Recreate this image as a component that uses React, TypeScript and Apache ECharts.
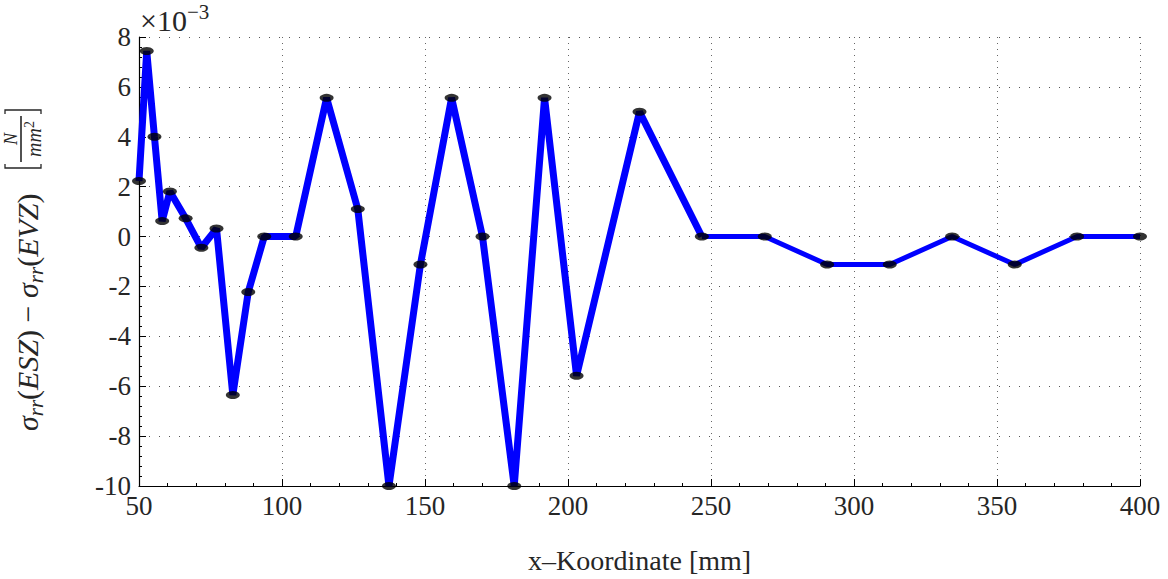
import React, { useEffect, useRef } from "react";
import * as echarts from "echarts";

// x-Koordinate [mm]
const xValues = [50, 52.7, 55.4, 58.1, 60.8, 66.3, 71.8, 77.1, 82.8, 88.2, 93.8, 104.8, 115.6, 126.5, 137.4, 148.4, 159.3, 170.1, 181.2, 191.8, 203.0, 225.0, 246.8, 268.8, 290.6, 312.5, 334.3, 356.2, 378.0, 400];
// sigma_rr(ESZ) - sigma_rr(EVZ), in units of 1e-3 N/mm^2
const yValues = [2.23, 7.44, 4.0, 0.62, 1.81, 0.73, -0.45, 0.32, -6.35, -2.22, 0, 0, 5.56, 1.1, -10, -1.12, 5.56, 0, -10, 5.56, -5.58, 5.0, 0, 0, -1.12, -1.12, 0, -1.12, 0, 0];
const splitIndex = 22; // thick part ends here, thin part starts
const xTicks = [50, 100, 150, 200, 250, 300, 350, 400];
const yTicks = [-10, -8, -6, -4, -2, 0, 2, 4, 6, 8];

const FONT = "'Liberation Serif', 'Times New Roman', serif";
const TXT = "#262626";

export default function App() {
  const ref = useRef<HTMLDivElement>(null);
  useEffect(() => {
    if (!ref.current) return;
    const chart = echarts.init(ref.current, undefined, { renderer: "svg" });
    const pts = xValues.map((x, i) => [x, yValues[i]]);
    const thick = pts.slice(0, splitIndex + 1);
    const thin = pts.slice(splitIndex);
    const axisCommon = {
      axisLine: { show: true, onZero: false, lineStyle: { color: "#000", width: 1.2 } },
      axisTick: { show: true, inside: true, length: 7, lineStyle: { color: "#000" } },
      minorTick: { show: true, splitNumber: 5, length: 3, lineStyle: { color: "#000" } },
      axisLabel: { fontFamily: FONT, fontSize: 27, color: TXT },
    };
    chart.setOption({
      animation: false,
      backgroundColor: "#fff",
      grid: { left: 139, right: 28, top: 37, bottom: 89, containLabel: false },
      xAxis: {
        type: "value",
        min: xTicks[0],
        max: xTicks[xTicks.length - 1],
        interval: 50,
        ...axisCommon,
        axisLabel: { ...axisCommon.axisLabel, margin: 6 },
        splitLine: { show: true, lineStyle: { color: "#666", type: [1, 5], width: 1 } },
        name: "x–Koordinate [mm]",
        nameLocation: "middle",
        nameGap: 60,
        nameTextStyle: { fontFamily: FONT, fontSize: 28, color: TXT },
      },
      yAxis: {
        type: "value",
        min: yTicks[0],
        max: yTicks[yTicks.length - 1],
        interval: 2,
        ...axisCommon,
        axisLabel: { ...axisCommon.axisLabel, margin: 8 },
        splitLine: { show: true, lineStyle: { color: "#555", type: [1, 9], width: 1 } },
      },
      series: [
        {
          type: "line",
          data: thick,
          showSymbol: false,
          lineStyle: { color: "#0000ff", width: 7 },
          clip: false,
          z: 2,
        },
        {
          type: "line",
          data: thin,
          showSymbol: false,
          lineStyle: { color: "#0000ff", width: 5 },
          clip: false,
          z: 2,
        },
        {
          type: "scatter",
          data: pts,
          symbol: "circle",
          symbolSize: [14, 8],
          itemStyle: { color: "#000" },
          clip: false,
          z: 3,
        },
      ],
      graphic: [
        {
          type: "text",
          left: 140,
          top: 1,
          style: {
            text: "{a|×10}{b|−3}",
            fill: TXT,
            rich: {
              a: { fontFamily: FONT, fontSize: 30, fill: TXT },
              b: { fontFamily: FONT, fontSize: 21, fill: TXT, padding: [0, 0, 18, 0] },
            },
          },
        },
        {
          type: "group",
          x: 48,
          y: 431,
          rotation: Math.PI / 2,
          children: [
            {
              type: "text",
              x: 0,
              y: -2,
              style: {
                text: "{i|σ}{s|rr}{n|(}{i|ESZ}{n|) − }{i|σ}{s|rr}{n|(}{i|EVZ}{n|)}",
                align: "left",
                verticalAlign: "bottom",
                fill: TXT,
                rich: {
                  i: { fontFamily: FONT, fontSize: 30, fontStyle: "italic", fill: TXT },
                  n: { fontFamily: FONT, fontSize: 30, fill: TXT },
                  s: { fontFamily: FONT, fontSize: 21, fontStyle: "italic", fill: TXT, padding: [17, 0, 0, 0] },
                },
              },
            },
            // left bracket
            {
              type: "polyline",
              shape: { points: [[267, -7], [263, -7], [263, -43], [267, -43]] },
              style: { stroke: TXT, lineWidth: 1.3, fill: null },
            },
            // right bracket
            {
              type: "polyline",
              shape: { points: [[317, -7], [321, -7], [321, -43], [317, -43]] },
              style: { stroke: TXT, lineWidth: 1.3, fill: null },
            },
            // fraction line
            {
              type: "line",
              shape: { x1: 269, y1: -27, x2: 315, y2: -27 },
              style: { stroke: TXT, lineWidth: 1.6 },
            },
            {
              type: "text",
              x: 292,
              y: -28,
              style: {
                text: "N",
                align: "center",
                verticalAlign: "bottom",
                fontFamily: FONT,
                fontSize: 18,
                fontStyle: "italic",
                fill: TXT,
              },
            },
            {
              type: "text",
              x: 292,
              y: -26,
              style: {
                text: "{i|mm}{p|2}",
                align: "center",
                verticalAlign: "top",
                fill: TXT,
                rich: {
                  i: { fontFamily: FONT, fontSize: 20, fontStyle: "italic", fill: TXT },
                  p: { fontFamily: FONT, fontSize: 14, fill: TXT, padding: [0, 0, 10, 0] },
                },
              },
            },
          ],
        },
      ],
    });
    return () => chart.dispose();
  }, []);
  return (
    <div
      ref={ref}
      style={{ position: "fixed", left: 0, top: 0, width: 1168, height: 579 }}
    />
  );
}
